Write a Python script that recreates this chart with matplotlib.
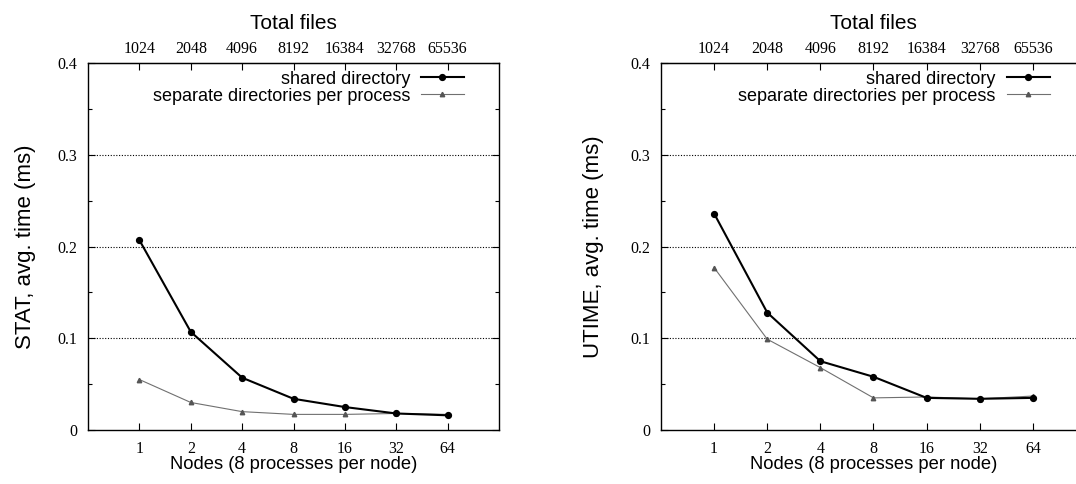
import matplotlib.pyplot as plt
from matplotlib.ticker import FixedLocator, NullLocator, MultipleLocator, FixedFormatter

# node counts, 8 processes per node, 128 files per process
nodes = [1, 2, 4, 8, 16, 32, 64]
total_files = [1024, 2048, 4096, 8192, 16384, 32768, 65536]

stat_shared = [0.207, 0.107, 0.057, 0.034, 0.025, 0.018, 0.016]
stat_separate = [0.055, 0.030, 0.020, 0.017, 0.017, 0.018, 0.017]

utime_shared = [0.236, 0.128, 0.075, 0.058, 0.035, 0.034, 0.035]
utime_separate = [0.177, 0.099, 0.068, 0.035, 0.036, 0.034, 0.037]

y_ticks = [0, 0.1, 0.2, 0.3, 0.4]
y_tick_labels = ["0", "0.1", "0.2", "0.3", "0.4"]

# (y label, shared series, separate series, axes rect, y label pad)
panels = [
    ("STAT, avg. time (ms)", stat_shared, stat_separate, [0.0818, 0.1116, 0.382, 0.758], 15.5),
    ("UTIME, avg. time (ms)", utime_shared, utime_separate, [0.6143, 0.1116, 0.395, 0.758], 19),
]

serif = "Liberation Serif"
sans = "Liberation Sans"

fig = plt.figure(figsize=(10.76, 4.84), dpi=100)

for ylabel, shared, separate, rect, ypad in panels:
    ax = fig.add_axes(rect)
    ax.set_xscale("log", base=2)
    ax.set_xlim(0.5, 128)
    ax.set_ylim(0, 0.4)

    ax.plot(nodes, shared, color="black", lw=1.5, marker="o", ms=4.2,
            label="shared directory", zorder=4)
    ax.plot(nodes, separate, color="#707070", lw=0.8, marker="^", ms=3.2,
            mfc="#555555", mec="#555555", label="separate directories per process", zorder=3)

    ax.xaxis.set_major_locator(FixedLocator(nodes))
    ax.xaxis.set_major_formatter(FixedFormatter([str(n) for n in nodes]))
    ax.xaxis.set_minor_locator(NullLocator())
    ax.set_yticks(y_ticks)
    ax.set_yticklabels(y_tick_labels, fontfamily=serif, fontsize=11.5)
    ax.yaxis.set_minor_locator(MultipleLocator(0.05))
    for lab in ax.get_xticklabels():
        lab.set_fontfamily(serif)
        lab.set_fontsize(11.5)

    ax.tick_params(axis="both", which="both", direction="in", right=True)
    ax.tick_params(axis="both", which="major", length=5, width=0.8)
    ax.tick_params(axis="y", which="minor", length=3, width=0.8)
    ax.tick_params(axis="x", pad=8)
    ax.tick_params(axis="y", pad=8)
    for side in ax.spines.values():
        side.set_linewidth(1.0)

    for y in y_ticks[1:-1]:
        ax.axhline(y, color="black", lw=0.8, ls=(0, (1, 1.5)), zorder=1)

    ax.set_xlabel("Nodes (8 processes per node)", fontfamily=sans, fontsize=13.2, labelpad=-1)
    ax.set_ylabel(ylabel, fontfamily=sans, fontsize=16, labelpad=ypad)

    top = ax.secondary_xaxis("top", functions=(lambda x: x * 1024, lambda x: x / 1024))
    top.xaxis.set_major_locator(FixedLocator(total_files))
    top.xaxis.set_major_formatter(FixedFormatter([str(t) for t in total_files]))
    top.xaxis.set_minor_locator(NullLocator())
    top.tick_params(direction="in", length=5, width=0.8, pad=4.4)
    for lab in top.get_xticklabels():
        lab.set_fontfamily(serif)
        lab.set_fontsize(11.5)
    top.set_xlabel("Total files", fontfamily=sans, fontsize=15, labelpad=8.8)

    ax.legend(loc="upper right", bbox_to_anchor=(0.915, 0.979), frameon=False,
              markerfirst=False, borderpad=0, borderaxespad=0, handlelength=2.4,
              handletextpad=0.6, labelspacing=0.0,
              prop={"family": sans, "size": 13})

fig.savefig("out.png", dpi=100)
